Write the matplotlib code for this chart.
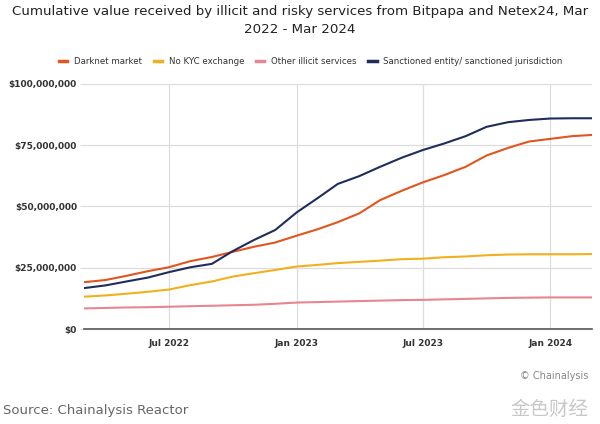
import numpy as np
import pandas as pd
import matplotlib
matplotlib.use("Agg")
import matplotlib.pyplot as plt
import matplotlib.dates as mdates
from matplotlib.ticker import FuncFormatter

# DATOS (millones de USD, acumulado mensual)
meses = pd.date_range("2022-03-01", "2024-03-01", freq="MS")
darknet = [19.1, 20.0, 21.7, 23.6, 25.2, 27.7, 29.4, 31.5, 33.6, 35.3, 38.1, 40.8, 43.6,
           47.2, 52.6, 56.4, 59.8, 62.8, 66.2, 70.8, 73.9, 76.5, 77.6, 78.7, 79.2]
no_kyc = [13.2, 13.7, 14.4, 15.2, 16.1, 17.9, 19.4, 21.4, 22.8, 24.1, 25.5, 26.2, 26.9,
          27.4, 27.9, 28.5, 28.7, 29.3, 29.6, 30.1, 30.4, 30.5, 30.5, 30.5, 30.6]
otros = [8.4, 8.6, 8.8, 8.9, 9.1, 9.3, 9.5, 9.7, 9.9, 10.3, 10.8, 11.0, 11.2,
         11.4, 11.6, 11.8, 11.9, 12.1, 12.3, 12.5, 12.7, 12.8, 12.9, 12.9, 12.9]
sancionados = [16.7, 17.8, 19.4, 21.0, 23.2, 25.2, 26.6, 31.8, 36.4, 40.4, 47.6, 53.6, 59.2,
               62.4, 66.2, 69.9, 73.0, 75.7, 78.7, 82.5, 84.4, 85.3, 85.9, 86.0, 86.0]

series = [
    ("Darknet market", darknet, "#e0561c"),
    ("No KYC exchange", no_kyc, "#f2b01e"),
    ("Other illicit services", otros, "#e8858e"),
    ("Sanctioned entity/ sanctioned jurisdiction", sancionados, "#1f2d5c"),
]
yticks = [0, 25, 50, 75, 100]
xticks = pd.to_datetime(["2022-07-01", "2023-01-01", "2023-07-01", "2024-01-01"])

fig = plt.figure(figsize=(6, 4.24), dpi=100)
ax = fig.add_axes([0.14, 0.224, 0.847, 0.578])

for nombre, valores, color in series:
    ax.plot(meses, np.array(valores) * 1e6, color=color, lw=1.5, label=nombre)

ax.set_xlim(meses[0], meses[-1])
ax.set_ylim(0, 100e6)
ax.set_yticks([v * 1e6 for v in yticks])
ax.yaxis.set_major_formatter(FuncFormatter(lambda v, p: "${:,.0f}".format(v)))
ax.set_xticks(xticks)
ax.xaxis.set_major_formatter(mdates.DateFormatter("%b %Y"))
ax.grid(True, color="#dcdcdc", lw=0.9)
ax.set_axisbelow(True)
for s in ["top", "right", "left"]:
    ax.spines[s].set_visible(False)
ax.spines["bottom"].set_color("#555555")
ax.spines["bottom"].set_linewidth(1.2)
ax.tick_params(axis="y", length=3, color="#dcdcdc", labelsize=6.5, labelcolor="#333333", pad=2)
ax.tick_params(axis="x", length=0, labelsize=6.5, labelcolor="#333333", pad=7)
for t in ax.get_xticklabels() + ax.get_yticklabels():
    t.set_fontweight("semibold")

fig.text(0.5, 0.988, "Cumulative value received by illicit and risky services from Bitpapa and Netex24, Mar\n2022 - Mar 2024",
         ha="center", va="top", fontsize=9.6, color="#222222", linespacing=1.5)
fig.legend(loc="center", bbox_to_anchor=(0.518, 0.856), ncol=4, frameon=False, fontsize=6.2,
           handlelength=1.0, handletextpad=0.8, columnspacing=1.3, labelcolor="#333333")
for l in fig.legends[0].get_lines():
    l.set_linewidth(2.5)

fig.text(0.98, 0.113, "© Chainalysis", ha="right", va="center", fontsize=7, color="#888888")
fig.text(0.005, 0.031, "Source: Chainalysis Reactor", ha="left", va="center", fontsize=9.5, color="#666666")
fig.text(0.98, 0.035, "金色财经", ha="right", va="center", fontsize=14, color="#c8c8c8",
         family=["Noto Sans CJK SC", "DejaVu Sans"])

fig.savefig("out.png", dpi=100)
